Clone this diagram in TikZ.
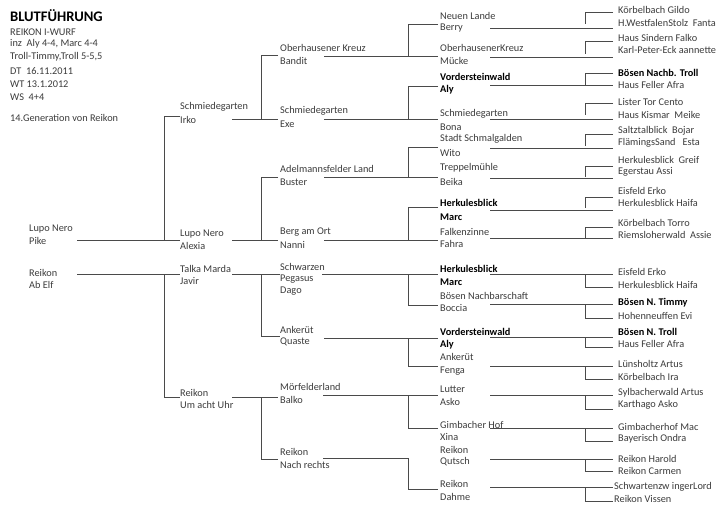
\documentclass[tikz,border=0pt]{standalone}
\usepackage{fontspec}
\setmainfont{Carlito}
\definecolor{txt}{HTML}{3C3C3C}
\definecolor{lin}{HTML}{4A4A4A}
\begin{document}
\begin{tikzpicture}[x=1pt,y=-1pt,
 t/.style={anchor=west,inner sep=0pt,text=txt,font=\fontsize{10.3}{12}\selectfont},
 tb/.style={anchor=west,inner sep=0pt,text=black,font=\fontsize{10.3}{12}\selectfont\bfseries},
 ln/.style={draw=lin,line width=0.8pt}]
\useasboundingbox[fill=white] (0,0) rectangle (720,513);
% header
\node[anchor=west,inner sep=0pt,text=black,font=\fontsize{14.6}{16}\selectfont\bfseries] (title) at (10,16) {BLUTFÜHRUNG};
\node[t] (h1) at (10,32) {REIKON I-WURF};
\node[t] (h2) at (10,44) {inz\ \ Aly 4-4, Marc 4-4};
\node[t] (h3) at (10,57) {Troll-Timmy,Troll 5-5,5};
\node[t] (h4) at (10,71) {DT\ \ 16.11.2011};
\node[t] (h5) at (10,84) {WT 13.1.2012};
\node[t] (h6) at (10,97) {WS\ \ 4+4};
\node[t] (h7) at (10,118) {14.Generation von Reikon};
% generation 1
\node[t] (a1) at (29,229) {Lupo Nero};
\node[t] (a2) at (29,241) {Pike};
\node[t] (a3) at (29,273) {Reikon};
\node[t] (a4) at (29,285) {Ab Elf};
% generation 2
\node[t] (b1) at (180,107) {Schmiedegarten};
\node[t] (b2) at (180,120) {Irko};
\node[t] (b3) at (180,234) {Lupo Nero};
\node[t] (b4) at (180,246) {Alexia};
\node[t] (b5) at (180,269) {Talka Marda};
\node[t] (b6) at (180,281) {Javir};
\node[t] (b7) at (180,393) {Reikon};
\node[t] (b8) at (180,405) {Um acht Uhr};
% generation 3
\node[t] (c1) at (280,48) {Oberhausener Kreuz};
\node[t] (c2) at (280,61) {Bandit};
\node[t] (c3) at (280,111) {Schmiedegarten};
\node[t] (c4) at (280,124) {Exe};
\node[t] (c5) at (280,169) {Adelmannsfelder Land};
\node[t] (c6) at (280,182) {Buster};
\node[t] (c7) at (280,232) {Berg am Ort};
\node[t] (c8) at (280,245) {Nanni};
\node[t] (c9) at (280,267) {Schwarzen};
\node[t] (c10) at (280,279) {Pegasus};
\node[t] (c11) at (280,291) {Dago};
\node[t] (c12) at (280,330) {Ankerüt};
\node[t] (c13) at (280,342) {Quaste};
\node[t] (c14) at (280,387) {Mörfelderland};
\node[t] (c15) at (280,400) {Balko};
\node[t] (c16) at (280,452) {Reikon};
\node[t] (c17) at (280,465) {Nach rechts};
% generation 4
\node[t] (d1) at (440,16) {Neuen Lande};
\node[t] (d2) at (440,28) {Berry};
\node[t] (d3) at (440,48) {OberhausenerKreuz};
\node[t] (d4) at (440,61) {Mücke};
\node[tb] (d5) at (440,77) {Vordersteinwald};
\node[tb] (d6) at (440,90) {Aly};
\node[t] (d7) at (440,114) {Schmiedegarten};
\node[t] (d8) at (440,127) {Bona};
\node[t] (d9) at (440,139) {Stadt Schmalgalden};
\node[t] (d10) at (440,153) {Wito};
\node[t] (d11) at (440,168) {Treppelmühle};
\node[t] (d12) at (440,182) {Beika};
\node[tb] (d13) at (440,203) {Herkulesblick};
\node[tb] (d14) at (440,217) {Marc};
\node[t] (d15) at (440,232) {Falkenzinne};
\node[t] (d16) at (440,244) {Fahra};
\node[tb] (d17) at (440,269) {Herkulesblick};
\node[tb] (d18) at (440,282) {Marc};
\node[t] (d19) at (440,296) {Bösen Nachbarschaft};
\node[t] (d20) at (440,308) {Boccia};
\node[tb] (d21) at (440,332) {Vordersteinwald};
\node[tb] (d22) at (440,345) {Aly};
\node[t] (d23) at (440,357) {Ankerüt};
\node[t] (d24) at (440,371) {Fenga};
\node[t] (d25) at (440,389) {Lutter};
\node[t] (d26) at (440,402) {Asko};
\node[t] (d27) at (440,425) {Gimbacher Hof};
\node[t] (d28) at (440,437) {Xina};
\node[t] (d29) at (440,450) {Reikon};
\node[t] (d30) at (440,462) {Qutsch};
\node[t] (d31) at (440,484) {Reikon};
\node[t] (d32) at (440,497) {Dahme};
% generation 5
\node[t] (e1) at (618,10) {Körbelbach Gildo};
\node[t] (e2) at (618,23) {H.WestfalenStolz\ \ Fanta};
\node[t] (e3) at (618,38) {Haus Sindern Falko};
\node[t] (e4) at (618,50) {Karl-Peter-Eck aannette};
\node[tb] (e5) at (618,73) {Bösen Nachb. Troll};
\node[t] (e6) at (618,85) {Haus Feller Afra};
\node[t] (e7) at (618,102) {Lister Tor Cento};
\node[t] (e8) at (618,115) {Haus Kismar\ \ Meike};
\node[t] (e9) at (618,131) {Saltztalblick\ \ Bojar};
\node[t] (e10) at (618,143) {FlämingsSand\ \ \ Esta};
\node[t] (e11) at (618,160) {Herkulesblick\ \ Greif};
\node[t] (e12) at (618,172) {Egerstau Assi};
\node[t] (e13) at (618,191) {Eisfeld Erko};
\node[t] (e14) at (618,203) {Herkulesblick Haifa};
\node[t] (e15) at (618,223) {Körbelbach Torro};
\node[t] (e16) at (618,235) {Riemsloherwald\ \ Assie};
\node[t] (e17) at (618,272) {Eisfeld Erko};
\node[t] (e18) at (618,285) {Herkulesblick Haifa};
\node[tb] (e19) at (618,303) {Bösen N. Timmy};
\node[t] (e20) at (618,316) {Hohenneuffen Evi};
\node[tb] (e21) at (618,332) {Bösen N. Troll};
\node[t] (e22) at (618,344) {Haus Feller Afra};
\node[t] (e23) at (618,364) {Lünsholtz Artus};
\node[t] (e24) at (618,377) {Körbelbach Ira};
\node[t] (e25) at (618,393) {Sylbacherwald Artus};
\node[t] (e26) at (618,405) {Karthago Asko};
\node[t] (e27) at (618,427) {Gimbacherhof Mac};
\node[t] (e28) at (618,439) {Bayerisch Ondra};
\node[t] (e29) at (618,459) {Reikon Harold};
\node[t] (e30) at (618,471) {Reikon Carmen};
\node[t] (e31) at (614,487) {Schwartenzw ingerLord};
\node[t] (e32) at (614,499) {Reikon Vissen};
% lines generation 1 -> 2
\draw[ln] (77,240) -- (180,240);
\draw[ln] (180,116) -| (164,240);
\draw[ln] (77,274) -- (180,274);
\draw[ln] (164,274) |- (180,397);
% lines generation 2 -> 3
\draw[ln] (232,119) -- (278,119);
\draw[ln] (278,55) -| (261,119);
\draw[ln] (232,240) -- (278,240);
\draw[ln] (278,177) -| (261,240);
\draw[ln] (232,274) -- (280,274);
\draw[ln] (261,274) |- (280,336);
\draw[ln] (232,397) -- (278,397);
\draw[ln] (261,397) |- (278,459);
% lines generation 3 -> 4
\draw[ln] (324,56) -- (438,56);
\draw[ln] (438,24) -| (408,56);
\draw[ln] (324,119) -- (438,119);
\draw[ln] (438,86) -| (408,119);
\draw[ln] (324,177) -- (438,177);
\draw[ln] (438,147) -| (408,177);
\draw[ln] (324,240) -- (438,240);
\draw[ln] (438,207) -| (408,240);
\draw[ln] (322,274) -- (438,274);
\draw[ln] (408,274) |- (438,305);
\draw[ln] (324,338) -- (438,338);
\draw[ln] (408,338) |- (438,366);
\draw[ln] (323,395) -- (438,395);
\draw[ln] (408,395) |- (438,428);
\draw[ln] (323,458) -- (408,458);
\draw[ln] (408,458) |- (438,489);
% lines generation 4 -> 5
\draw[ln] (490,28) -- (613,28);
\draw[ln] (613,12) -| (585,24);
\draw[ln] (490,57) -- (613,57);
\draw[ln] (613,41) -| (585,54);
\draw[ln] (490,85) -- (613,85);
\draw[ln] (613,73) -| (585,85);
\draw[ln] (490,119) -- (613,119);
\draw[ln] (613,103) -| (585,115);
\draw[ln] (490,148) -- (613,148);
\draw[ln] (613,134) -| (585,146);
\draw[ln] (490,178) -- (613,178);
\draw[ln] (613,166) -| (585,177);
\draw[ln] (490,210) -- (613,210);
\draw[ln] (613,197) -| (585,208);
\draw[ln] (490,238) -- (613,238);
\draw[ln] (613,227) -| (585,238);
\draw[ln] (490,274) -- (613,274);
\draw[ln] (585,274) |- (613,287);
\draw[ln] (490,304) -- (613,304);
\draw[ln] (585,304) |- (613,318);
\draw[ln] (490,337) -- (613,337);
\draw[ln] (585,337) |- (613,347);
\draw[ln] (490,366) -- (613,366);
\draw[ln] (585,366) |- (613,379);
\draw[ln] (490,395) -- (613,395);
\draw[ln] (585,395) |- (613,409);
\draw[ln] (490,428) -- (613,428);
\draw[ln] (585,428) |- (613,441);
\draw[ln] (490,459) -- (613,459);
\draw[ln] (585,459) |- (613,471);
\draw[ln] (490,487) -- (613,487);
\draw[ln] (585,487) |- (613,501);
\end{tikzpicture}
\end{document}
